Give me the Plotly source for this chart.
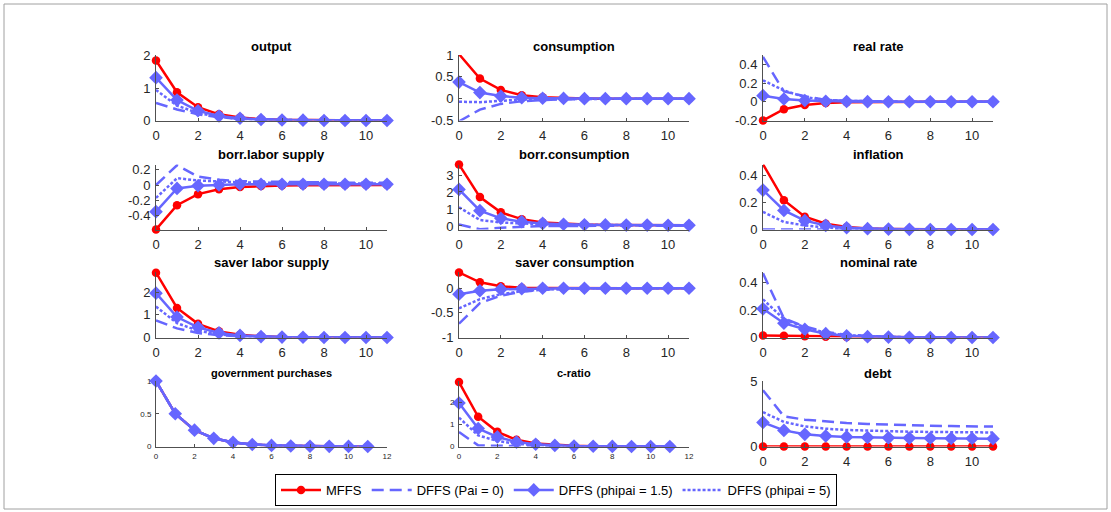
import plotly.graph_objects as go

W, H = 1111, 512
t = list(range(12))

SERIES_NAMES = ["MFFS", "DFFS (Pai = 0)", "DFFS (phipai = 1.5)", "DFFS (phipai = 5)"]

# ---- data ----
output_mffs = [1.85, 0.87, 0.41, 0.19, 0.09, 0.04, 0.02, 0.01, 0.005, 0.0, 0.0, 0.0]
output_pai0 = [0.54, 0.34, 0.19, 0.10, 0.05, 0.03, 0.015, 0.01, 0.0, 0.0, 0.0, 0.0]
output_phi15 = [1.32, 0.63, 0.30, 0.14, 0.07, 0.03, 0.015, 0.01, 0.0, 0.0, 0.0, 0.0]
output_phi5 = [0.94, 0.46, 0.23, 0.11, 0.05, 0.03, 0.01, 0.005, 0.0, 0.0, 0.0, 0.0]

cons_mffs = [1.02, 0.46, 0.20, 0.08, 0.03, 0.01, 0.005, 0.0, 0.0, 0.0, 0.0, 0.0]
cons_pai0 = [-0.52, -0.25, -0.12, -0.06, -0.03, -0.01, -0.005, 0.0, 0.0, 0.0, 0.0, 0.0]
cons_phi15 = [0.38, 0.14, 0.06, 0.02, 0.01, 0.005, 0.0, 0.0, 0.0, 0.0, 0.0, 0.0]
cons_phi5 = [-0.07, -0.08, -0.05, -0.02, -0.01, -0.005, 0.0, 0.0, 0.0, 0.0, 0.0, 0.0]

rr_mffs = [-0.20, -0.08, -0.035, -0.012, -0.005, -0.002, 0.0, 0.0, 0.0, 0.0, 0.0, 0.0]
rr_pai0 = [0.48, 0.11, 0.06, 0.02, 0.01, 0.005, 0.0, 0.0, 0.0, 0.0, 0.0, 0.0]
rr_phi15 = [0.065, 0.03, 0.014, 0.006, 0.003, 0.001, 0.0, 0.0, 0.0, 0.0, 0.0, 0.0]
rr_phi5 = [0.23, 0.12, 0.05, 0.02, 0.01, 0.005, 0.0, 0.0, 0.0, 0.0, 0.0, 0.0]

bls_mffs = [-0.585, -0.265, -0.12, -0.055, -0.025, -0.012, -0.006, -0.003, 0.0, 0.0, 0.0, 0.0]
bls_pai0 = [0.0, 0.26, 0.11, 0.07, 0.05, 0.045, 0.04, 0.035, 0.035, 0.03, 0.03, 0.03]
bls_phi15 = [-0.35, -0.045, -0.01, 0.0, 0.01, 0.01, 0.01, 0.01, 0.01, 0.01, 0.01, 0.01]
bls_phi5 = [-0.17, 0.09, 0.06, 0.045, 0.035, 0.03, 0.025, 0.025, 0.02, 0.02, 0.02, 0.02]

bc_mffs = [3.62, 1.70, 0.80, 0.40, 0.20, 0.12, 0.08, 0.06, 0.05, 0.04, 0.04, 0.04]
bc_pai0 = [0.08, -0.20, -0.10, -0.04, -0.01, 0.0, 0.01, 0.02, 0.02, 0.02, 0.02, 0.02]
bc_phi15 = [2.15, 0.90, 0.45, 0.25, 0.15, 0.10, 0.07, 0.06, 0.05, 0.05, 0.04, 0.04]
bc_phi5 = [1.10, 0.35, 0.20, 0.14, 0.10, 0.08, 0.06, 0.05, 0.05, 0.04, 0.04, 0.04]

infl_mffs = [0.48, 0.215, 0.094, 0.042, 0.018, 0.008, 0.004, 0.002, 0.001, 0.0, 0.0, 0.0]
infl_pai0 = [0.0, 0.0, 0.0, 0.0, 0.0, 0.0, 0.0, 0.0, 0.0, 0.0, 0.0, 0.0]
infl_phi15 = [0.29, 0.14, 0.065, 0.03, 0.013, 0.006, 0.003, 0.001, 0.0, 0.0, 0.0, 0.0]
infl_phi5 = [0.13, 0.055, 0.03, 0.014, 0.006, 0.003, 0.001, 0.0, 0.0, 0.0, 0.0, 0.0]

sls_mffs = [2.85, 1.30, 0.60, 0.27, 0.12, 0.05, 0.02, 0.01, 0.005, 0.0, 0.0, 0.0]
sls_pai0 = [0.75, 0.40, 0.20, 0.10, 0.05, 0.02, 0.01, 0.005, 0.0, 0.0, 0.0, 0.0]
sls_phi15 = [1.95, 0.90, 0.45, 0.20, 0.09, 0.04, 0.02, 0.01, 0.0, 0.0, 0.0, 0.0]
sls_phi5 = [1.36, 0.63, 0.30, 0.14, 0.06, 0.03, 0.01, 0.005, 0.0, 0.0, 0.0, 0.0]

sc_mffs = [0.32, 0.12, 0.04, 0.01, 0.005, 0.0, 0.0, 0.0, 0.0, 0.0, 0.0, 0.0]
sc_pai0 = [-0.72, -0.30, -0.15, -0.07, -0.03, -0.01, 0.0, 0.0, 0.0, 0.0, 0.0, 0.0]
sc_phi15 = [-0.12, -0.05, -0.02, -0.01, 0.0, 0.0, 0.0, 0.0, 0.0, 0.0, 0.0, 0.0]
sc_phi5 = [-0.41, -0.22, -0.12, -0.06, -0.03, -0.01, 0.0, 0.0, 0.0, 0.0, 0.0, 0.0]

nom_mffs = [0.015, 0.013, 0.01, 0.006, 0.004, 0.002, 0.001, 0.0, 0.0, 0.0, 0.0, 0.0]
nom_pai0 = [0.47, 0.14, 0.08, 0.04, 0.02, 0.01, 0.005, 0.002, 0.0, 0.0, 0.0, 0.0]
nom_phi15 = [0.21, 0.105, 0.06, 0.028, 0.013, 0.006, 0.003, 0.001, 0.0, 0.0, 0.0, 0.0]
nom_phi5 = [0.28, 0.135, 0.075, 0.035, 0.017, 0.008, 0.004, 0.002, 0.0, 0.0, 0.0, 0.0]

gov_mffs = [1.0, 0.5, 0.25, 0.125, 0.0625, 0.031, 0.016, 0.008, 0.004, 0.002, 0.001, 0.0005]
gov_pai0 = [1.0, 0.5, 0.25, 0.125, 0.0625, 0.031, 0.016, 0.008, 0.004, 0.002, 0.001, 0.0005]
gov_phi15 = [1.0, 0.5, 0.25, 0.125, 0.0625, 0.031, 0.016, 0.008, 0.004, 0.002, 0.001, 0.0005]
gov_phi5 = [1.0, 0.5, 0.25, 0.125, 0.0625, 0.031, 0.016, 0.008, 0.004, 0.002, 0.001, 0.0005]

cr_mffs = [2.90, 1.34, 0.66, 0.30, 0.14, 0.07, 0.03, 0.015, 0.007, 0.003, 0.001, 0.0]
cr_pai0 = [0.65, 0.05, 0.03, 0.02, 0.01, 0.005, 0.0, 0.0, 0.0, 0.0, 0.0, 0.0]
cr_phi15 = [1.96, 0.81, 0.43, 0.20, 0.10, 0.05, 0.02, 0.01, 0.005, 0.0, 0.0, 0.0]
cr_phi5 = [1.30, 0.50, 0.25, 0.12, 0.06, 0.03, 0.015, 0.007, 0.0, 0.0, 0.0, 0.0]

debt_mffs = [0.0, 0.0, 0.0, 0.0, 0.0, 0.0, 0.0, 0.0, 0.0, 0.0, 0.0, 0.0]
debt_pai0 = [4.30, 2.30, 2.05, 1.90, 1.80, 1.72, 1.66, 1.62, 1.58, 1.56, 1.54, 1.52]
debt_phi15 = [1.84, 1.23, 0.93, 0.80, 0.73, 0.69, 0.66, 0.64, 0.63, 0.62, 0.61, 0.60]
debt_phi5 = [2.62, 1.88, 1.53, 1.36, 1.26, 1.20, 1.16, 1.13, 1.11, 1.09, 1.08, 1.07]

titles = ["output", "consumption", "real rate",
          "borr.labor supply", "borr.consumption", "inflation",
          "saver labor supply", "saver consumption", "nominal rate",
          "government purchases", "c-ratio", "debt"]

ytick_values = [[0, 1, 2], [-0.5, 0, 0.5, 1], [-0.2, 0, 0.2, 0.4],
                [-0.4, -0.2, 0, 0.2], [0, 1, 2, 3], [0, 0.2, 0.4],
                [0, 1, 2], [-1, -0.5, 0], [0, 0.2, 0.4],
                [0, 0.5, 1], [0, 1, 2], [0, 5]]
ytick_labels = [["0", "1", "2"], ["-0.5", "0", "0.5", "1"], ["-0.2", "0", "0.2", "0.4"],
                ["-0.4", "-0.2", "0", "0.2"], ["0", "1", "2", "3"], ["0", "0.2", "0.4"],
                ["0", "1", "2"], ["-1", "-0.5", "0"], ["0", "0.2", "0.4"],
                ["0", "0.5", "1"], ["0", "1", "2"], ["0", "5"]]
xtick_values_short = [0, 2, 4, 6, 8, 10]
xtick_values_long = [0, 2, 4, 6, 8, 10, 12]

# ---- layout geometry (pixels) ----
col_px = [(156, 387), (459, 689), (763, 993)]
row_px = [(55, 120.5), (164.5, 229.5), (272, 337.5), (381, 446.5)]
title_y = [46, 154, 262, 373]
yranges = [[0, 2.02], [-0.5, 1.0], [-0.2, 0.5],
           [-0.585, 0.27], [-0.21, 3.62], [0, 0.478],
           [0, 2.88], [-1.0, 0.33], [0, 0.48],
           [0, 1.0], [0, 2.95], [0, 5.0]]

panels = [
    (output_mffs, output_pai0, output_phi15, output_phi5),
    (cons_mffs, cons_pai0, cons_phi15, cons_phi5),
    (rr_mffs, rr_pai0, rr_phi15, rr_phi5),
    (bls_mffs, bls_pai0, bls_phi15, bls_phi5),
    (bc_mffs, bc_pai0, bc_phi15, bc_phi5),
    (infl_mffs, infl_pai0, infl_phi15, infl_phi5),
    (sls_mffs, sls_pai0, sls_phi15, sls_phi5),
    (sc_mffs, sc_pai0, sc_phi15, sc_phi5),
    (nom_mffs, nom_pai0, nom_phi15, nom_phi5),
    (gov_mffs, gov_pai0, gov_phi15, gov_phi5),
    (cr_mffs, cr_pai0, cr_phi15, cr_phi5),
    (debt_mffs, debt_pai0, debt_phi15, debt_phi5),
]

RED = "rgb(255,0,0)"
BLUE = "rgb(102,102,255)"
AX = "rgb(80,80,80)"
TXT = "rgb(38,38,38)"
FONT = "Liberation Sans, Arial, Helvetica, sans-serif"

styles = [
    dict(mode="lines+markers", line=dict(color=RED, width=2.5),
         marker=dict(symbol="circle", size=8.5, color=RED)),
    dict(mode="lines", line=dict(color=BLUE, width=2.5, dash="12px,6px")),
    dict(mode="lines+markers", line=dict(color=BLUE, width=2.5),
         marker=dict(symbol="diamond", size=10.5, color=BLUE)),
    dict(mode="lines", line=dict(color=BLUE, width=2.5, dash="3px,2px")),
]

fig = go.Figure()
annotations = []
for i, series in enumerate(panels):
    r, c = divmod(i, 3)
    k = i + 1
    xa = "x" if k == 1 else f"x{k}"
    ya = "y" if k == 1 else f"y{k}"
    for j, ys in enumerate(series):
        fig.add_trace(go.Scatter(x=t, y=ys, name=SERIES_NAMES[j], xaxis=xa, yaxis=ya,
                                 showlegend=(i == 0), cliponaxis=False, **styles[j]))
    small = (r == 3 and c < 2)
    x0, x1 = col_px[c]
    top, bot = row_px[r]
    tick_font = dict(family=FONT, size=8 if small else 13, color=TXT)
    xtv = xtick_values_long if small else xtick_values_short
    common = dict(showline=True, linecolor=AX, linewidth=1, ticks="inside", ticklen=3,
                  tickcolor=AX, showgrid=False, zeroline=False, tickfont=tick_font,
                  automargin=False)
    fig.layout[f"xaxis{'' if k == 1 else k}"] = dict(
        domain=[x0 / W, x1 / W], range=[0, 12] if small else [0, 11], anchor=ya,
        tickvals=xtv, ticktext=[str(v) for v in xtv],
        ticklabelstandoff=2 if small else 3, **common)
    fig.layout[f"yaxis{'' if k == 1 else k}"] = dict(
        domain=[1 - bot / H, 1 - top / H], range=yranges[i], anchor=xa,
        tickvals=ytick_values[i], ticktext=ytick_labels[i],
        ticklabelstandoff=2, **common)
    annotations.append(dict(text=f"<b>{titles[i]}</b>", x=(x0 + x1) / 2 / W,
                            y=1 - title_y[r] / H, xref="paper", yref="paper",
                            showarrow=False, xanchor="center", yanchor="middle",
                            font=dict(family=FONT, size=11 if small else 13, color="black")))

fig.update_layout(
    template="none",
    width=W, height=H, autosize=False,
    margin=dict(l=0, r=0, t=0, b=0, pad=0, autoexpand=False),
    paper_bgcolor="white", plot_bgcolor="white",
    annotations=annotations,
    legend=dict(orientation="h", x=556 / W, xanchor="center", y=1 - 490 / H, yanchor="middle",
                bordercolor="black", borderwidth=1, bgcolor="white",
                font=dict(family=FONT, size=13, color="black"), itemwidth=40,
                traceorder="normal"),
    shapes=[dict(type="rect", xref="paper", yref="paper", x0=4 / W, x1=1107 / W,
                 y0=1 - 509 / H, y1=1 - 4 / H, line=dict(color="rgb(160,160,160)", width=1))],
)

fig.write_html("out.html",
               post_script="document.documentElement.style.margin='0';"
                           "document.body.style.margin='0';document.body.style.padding='0';")
